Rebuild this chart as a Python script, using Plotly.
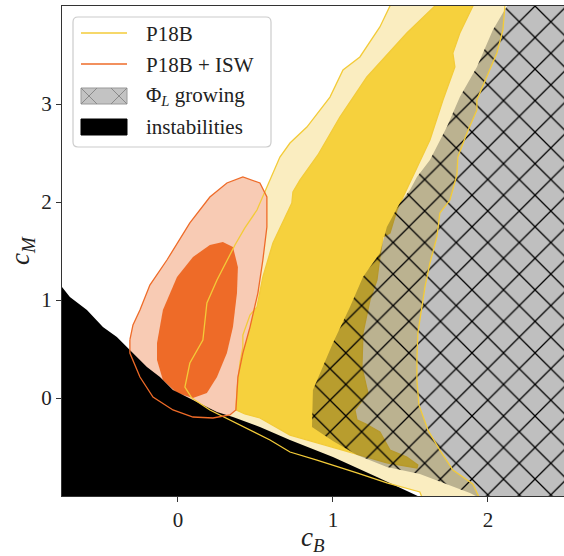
import plotly.graph_objects as go

# ---------------- data (c_B, c_M) ----------------
# instabilities region: upper boundary, then closed below/left of the axes
instab_cB = [-0.90, -0.748, -0.697, -0.587, -0.484, -0.394, -0.310, -0.200, -0.116, -0.032,
             0.097, 0.252, 0.355, 0.529, 0.723, 1.000, 1.284, 1.561, 1.62, -0.90]
instab_cM = [1.133, 1.133, 1.031, 0.898, 0.724, 0.622, 0.490, 0.316, 0.214, 0.082,
             -0.020, -0.143, -0.194, -0.296, -0.429, -0.602, -0.806, -1.010, -1.20, -1.20]

# P18B outer (2 sigma) contour
p18b_2s_cB = [1.39, 1.368, 1.303, 1.174, 1.065, 0.981, 0.832, 0.723, 0.658, 0.574, 0.510,
              0.432, 0.368, 0.252, 0.187, 0.161, 0.077, 0.045, 0.090, 0.206, 0.445, 0.594,
              0.723, 0.897, 1.155, 1.348, 1.561, 1.574, 1.58, 1.95,
              1.942, 1.903, 1.774, 1.690, 1.613, 1.555, 1.542, 1.542, 1.548, 1.581, 1.594,
              1.626, 1.671, 1.690, 1.755, 1.800, 1.806, 1.865, 1.929, 1.929, 1.994, 2.058,
              2.097, 2.110, 2.12, 1.39]
p18b_2s_cM = [4.20, 4.000, 3.786, 3.480, 3.347, 3.071, 2.765, 2.602, 2.459, 2.153, 1.918,
              1.735, 1.561, 1.204, 0.969, 0.592, 0.357, 0.112, 0.000, -0.122, -0.306, -0.429,
              -0.551, -0.633, -0.765, -0.867, -0.959, -1.010, -1.20, -1.20,
              -1.010, -0.878, -0.735, -0.531, -0.327, -0.071, 0.184, 0.388, 0.663, 1.000, 1.133,
              1.378, 1.643, 1.888, 2.020, 2.276, 2.459, 2.704, 2.939, 3.041, 3.276, 3.520,
              3.755, 4.000, 4.20, 4.20]

# P18B inner (1 sigma) contour
p18b_1s_cB = [1.66, 1.658, 1.477, 1.219, 1.045, 0.903, 0.787, 0.742, 0.735, 0.613, 0.548,
              0.510, 0.465, 0.419, 0.419, 0.400, 0.381, 0.374, 0.432, 0.529, 0.723, 1.000,
              1.174, 1.348, 1.542, 1.548, 1.477, 1.368, 1.303, 1.213, 1.155, 1.142, 1.226,
              1.187, 1.194, 1.239, 1.284, 1.303, 1.323, 1.368, 1.413, 1.529, 1.626, 1.710,
              1.787, 1.774, 1.819, 1.903, 1.91, 1.66]
p18b_1s_cM = [4.20, 4.000, 3.724, 3.276, 2.867, 2.480, 2.224, 2.102, 1.990, 1.582, 1.235,
              0.929, 0.847, 0.643, 0.520, 0.357, 0.082, -0.122, -0.163, -0.204, -0.378, -0.500,
              -0.582, -0.663, -0.714, -0.684, -0.602, -0.531, -0.347, -0.265, -0.224, -0.122, 0.051,
              0.316, 0.663, 1.000, 1.204, 1.439, 1.643, 1.684, 1.918, 2.306, 2.633, 3.041,
              3.378, 3.520, 3.724, 4.000, 4.20, 4.20]

# P18B + ISW outer (2 sigma) contour
isw_2s_cB = [-0.310, -0.290, -0.245, -0.181, -0.071, 0.077, 0.206, 0.316, 0.419, 0.529,
             0.574, 0.574, 0.548, 0.516, 0.465, 0.419, 0.387, 0.381, 0.374, 0.335, 0.226,
             0.097, -0.032, -0.161, -0.245, -0.310, -0.310]
isw_2s_cM = [0.592, 0.745, 0.898, 1.153, 1.408, 1.786, 2.051, 2.194, 2.255, 2.194,
             2.051, 1.745, 1.408, 1.071, 0.724, 0.459, 0.214, -0.020, -0.122, -0.173, -0.204,
             -0.194, -0.122, 0.010, 0.214, 0.459, 0.592]

# P18B + ISW inner (1 sigma) contour
isw_1s_cB = [0.290, 0.355, 0.387, 0.381, 0.355, 0.316, 0.252, 0.187, 0.097, -0.006,
             -0.097, -0.135, -0.135, -0.097, -0.006, 0.097, 0.206, 0.290]
isw_1s_cM = [1.592, 1.541, 1.337, 1.071, 0.724, 0.459, 0.214, 0.051, 0.000, 0.051,
             0.184, 0.388, 0.561, 0.898, 1.235, 1.439, 1.561, 1.592]

# Phi_L growing region: left/lower boundary, closed to the right
phi_cB = [2.13, 2.123, 2.032, 1.929, 1.819, 1.735, 1.626, 1.542, 1.497, 1.432, 1.348,
          1.303, 1.194, 1.110, 1.000, 0.871, 0.865, 1.000, 1.155, 1.348, 1.561, 1.710,
          1.884, 1.935, 1.95, 2.70, 2.70, 2.13]
phi_cM = [4.20, 4.000, 3.755, 3.378, 3.071, 2.765, 2.429, 2.255, 2.122, 1.990, 1.745,
          1.480, 1.235, 0.929, 0.561, 0.082, -0.296, -0.439, -0.582, -0.704, -0.776, -0.867,
          -0.969, -1.010, -1.20, -1.20, 4.20, 4.20]

x_ticks = [0, 1, 2]
y_ticks = [0, 1, 2, 3]
x_range = [-0.748, 2.491]
y_range = [-1.0, 4.0]

# ---------------- styles ----------------
C_Y_LIGHT = "#FAEDC0"
C_Y_DARK = "#F6D13D"
C_Y_LINE = "#F3CB38"
C_O_LIGHT = "#F8CBB4"
C_O_DARK = "#EE6B28"
C_O_LINE = "#EE6B28"
FONT = "Liberation Serif"
AXC = "#333333"

fig = go.Figure()


def area(x, y, color):
    fig.add_trace(go.Scatter(x=x, y=y, mode="lines", fill="toself", fillcolor=color,
                             line=dict(width=0, color=color), hoverinfo="skip",
                             showlegend=False))


def outline(x, y, color, width=1.3):
    fig.add_trace(go.Scatter(x=x, y=y, mode="lines", line=dict(color=color, width=width),
                             hoverinfo="skip", showlegend=False))


area(p18b_2s_cB, p18b_2s_cM, C_Y_LIGHT)
area(p18b_1s_cB, p18b_1s_cM, C_Y_DARK)
area(isw_2s_cB, isw_2s_cM, C_O_LIGHT)
area(isw_1s_cB, isw_1s_cM, C_O_DARK)
outline(p18b_1s_cB, p18b_1s_cM, C_Y_LINE)
area(instab_cB, instab_cM, "black")
fig.add_trace(go.Scatter(
    x=phi_cB, y=phi_cM, mode="lines", fill="toself", fillcolor="rgba(0,0,0,0.25)",
    line=dict(width=0), hoverinfo="skip", showlegend=False,
    fillpattern=dict(shape="x", fgcolor="black", bgcolor="rgba(0,0,0,0.25)",
                     size=22.3, solidity=0.11, fillmode="replace")))
outline(p18b_2s_cB, p18b_2s_cM, C_Y_LINE)
outline(isw_2s_cB, isw_2s_cM, C_O_LINE)

# ---------------- layout ----------------
L, R, T, B = 62, 0, 6, 60
W, H = 564, 556
PW, PH = W - L - R, H - T - B


def px(x):
    return (x - L) / PW


def py(y):
    return (H - B - y) / PH


axis_common = dict(showgrid=False, zeroline=False, ticks="outside", ticklen=5, tickwidth=1,
                   tickcolor=AXC, showline=True, linecolor=AXC, linewidth=1.2,
                   automargin=False,
                   tickfont=dict(family=FONT, size=21, color="#222"))
fig.update_layout(
    width=W, height=H, margin=dict(l=L, r=R, t=T, b=B, autoexpand=False),
    paper_bgcolor="white", plot_bgcolor="white",
    xaxis=dict(range=x_range, tickvals=x_ticks, ticktext=[str(v) for v in x_ticks],
               mirror=True, **axis_common),
    yaxis=dict(range=y_range, tickvals=y_ticks, ticktext=[str(v) for v in y_ticks],
               **axis_common),
    showlegend=False,
)

# axis titles
fig.add_annotation(x=px(313), y=py(539), xref="paper", yref="paper",
                   text="<i>c</i><sub><i>B</i></sub>", showarrow=False,
                   xanchor="center", yanchor="middle",
                   font=dict(family=FONT, size=27, color="#222"))
fig.add_annotation(x=px(22), y=py(251), xref="paper", yref="paper",
                   text="<i>c</i><sub><i>M</i></sub>", showarrow=False, textangle=-90,
                   xanchor="center", yanchor="middle",
                   font=dict(family=FONT, size=27, color="#222"))

# ---------------- legend (drawn manually) ----------------
shapes = []
bx0, bx1, by0, by1, rr = 73, 271, 17, 147, 5
path = (f"M{px(bx0 + rr)},{py(by0)} L{px(bx1 - rr)},{py(by0)} Q{px(bx1)},{py(by0)} {px(bx1)},{py(by0 + rr)} "
        f"L{px(bx1)},{py(by1 - rr)} Q{px(bx1)},{py(by1)} {px(bx1 - rr)},{py(by1)} "
        f"L{px(bx0 + rr)},{py(by1)} Q{px(bx0)},{py(by1)} {px(bx0)},{py(by1 - rr)} "
        f"L{px(bx0)},{py(by0 + rr)} Q{px(bx0)},{py(by0)} {px(bx0 + rr)},{py(by0)} Z")
shapes.append(dict(type="path", path=path, xref="paper", yref="paper",
                   fillcolor="rgba(255,255,255,0.85)", line=dict(color="#CCCCCC", width=1.2)))
hx0, hx1 = 81, 127
shapes.append(dict(type="line", xref="paper", yref="paper", x0=px(hx0), x1=px(hx1),
                   y0=py(33), y1=py(33), line=dict(color=C_Y_LINE, width=1.6)))
shapes.append(dict(type="line", xref="paper", yref="paper", x0=px(hx0), x1=px(hx1),
                   y0=py(64), y1=py(64), line=dict(color=C_O_LINE, width=1.6)))
shapes.append(dict(type="rect", xref="paper", yref="paper", x0=px(hx0), x1=px(hx1),
                   y0=py(104), y1=py(88), fillcolor="#C3C3C3", line=dict(color="#999999", width=1)))
for cx in (89, 119):
    shapes.append(dict(type="line", xref="paper", yref="paper", x0=px(cx - 8), x1=px(cx + 8),
                       y0=py(88), y1=py(104), line=dict(color="#8A8A8A", width=1)))
    shapes.append(dict(type="line", xref="paper", yref="paper", x0=px(cx - 8), x1=px(cx + 8),
                       y0=py(104), y1=py(88), line=dict(color="#8A8A8A", width=1)))
shapes.append(dict(type="rect", xref="paper", yref="paper", x0=px(hx0), x1=px(hx1),
                   y0=py(135), y1=py(119), fillcolor="black", line=dict(color="black", width=1)))
fig.update_layout(shapes=shapes)

labels = [("P18B", 34), ("P18B + ISW", 65), ("Φ<sub><i>L</i></sub> growing", 96),
          ("instabilities", 127)]
for text, yy in labels:
    fig.add_annotation(x=px(144), y=py(yy), xref="paper", yref="paper", text=text,
                       showarrow=False, xanchor="left", yanchor="middle",
                       font=dict(family=FONT, size=21, color="#222"))

fig.write_html("out.html", config={"displayModeBar": False},
               post_script="document.body.style.margin='0px';document.body.style.overflow='hidden';")
